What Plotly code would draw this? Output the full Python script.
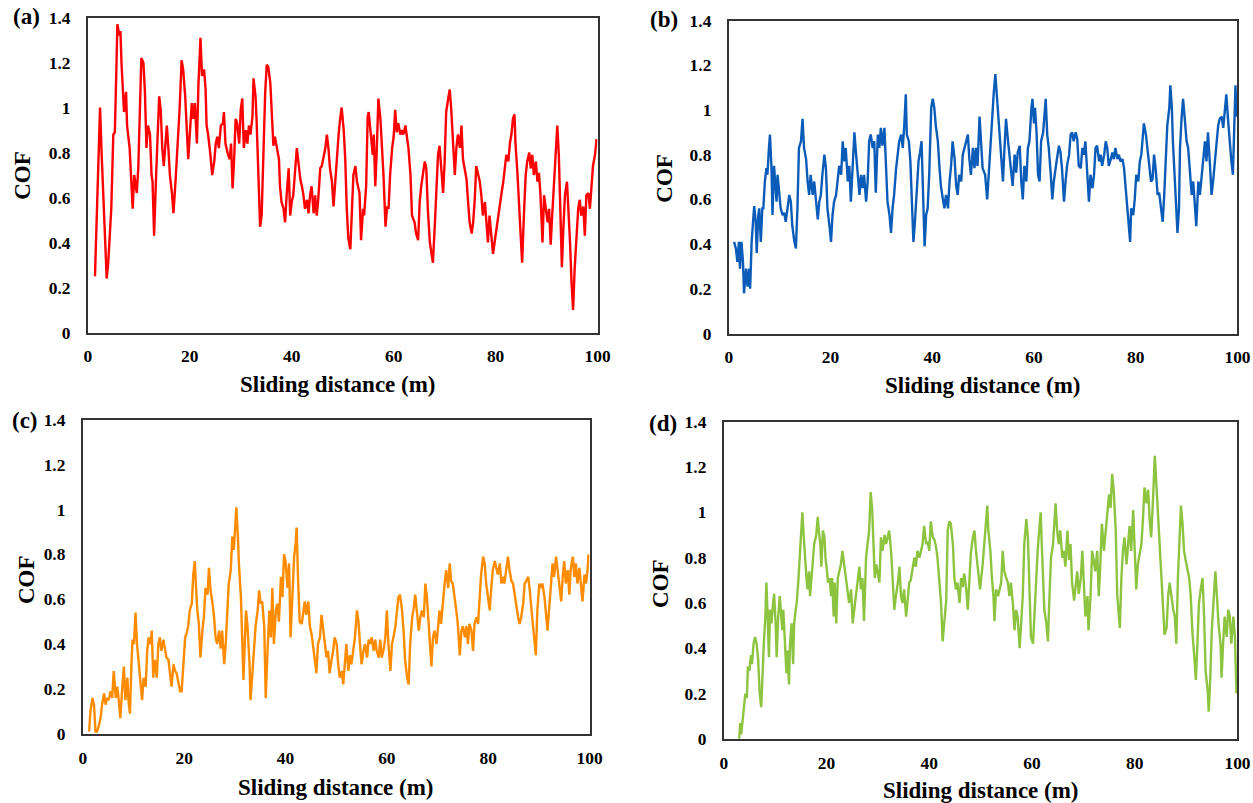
import plotly.graph_objects as go

# ---------------- data: coefficient of friction vs sliding distance ----------------
dist_a = [
    1.4, 2.4, 2.7, 3.3, 3.7, 4.0, 4.6, 5.0, 5.3, 5.6,
    5.8, 6.2, 6.4, 6.6, 6.9, 7.1, 7.5, 7.7, 8.2, 8.6,
    8.8, 9.1, 9.6, 9.9, 10.2, 10.5, 10.9, 11.2, 11.5, 11.8,
    12.2, 12.5, 12.7, 13.0, 13.4, 13.8, 14.0, 14.3, 14.6, 14.9,
    15.2, 15.5, 15.8, 16.1, 16.5, 16.8, 17.2, 17.6, 18.0, 18.4,
    18.7, 19.1, 19.4, 19.7, 20.0, 20.4, 20.7, 21.0, 21.4, 21.7,
    22.1, 22.4, 22.8, 23.1, 23.3, 23.6, 24.0, 24.4, 24.8, 25.1,
    25.4, 25.7, 26.1, 26.5, 26.7, 27.0, 27.4, 27.8, 28.1, 28.4,
    28.7, 29.0, 29.3, 29.7, 30.0, 30.3, 30.6, 31.0, 31.3, 31.6,
    31.9, 32.3, 32.5, 32.9, 33.1, 33.5, 33.8, 34.1, 34.5, 34.8,
    35.1, 35.4, 35.8, 36.1, 36.4, 36.7, 37.1, 37.5, 37.7, 38.0,
    38.4, 38.7, 39.0, 39.4, 39.7, 40.0, 40.3, 40.7, 41.0, 41.3,
    41.7, 42.0, 42.3, 42.6, 43.0, 43.3, 43.6, 43.9, 44.3, 44.6,
    44.9, 45.2, 45.6, 45.9, 46.2, 46.6, 46.9, 47.2, 47.5, 47.9,
    48.2, 48.5, 48.9, 49.2, 49.5, 49.8, 50.2, 50.5, 50.8, 51.1,
    51.5, 51.8, 52.1, 52.5, 52.8, 53.3, 53.6, 54.0, 54.2, 54.6,
    54.9, 55.1, 55.5, 55.9, 56.1, 56.4, 56.7, 57.0, 57.4, 57.7,
    58.0, 58.4, 58.7, 59.0, 59.3, 59.7, 60.0, 60.3, 60.6, 60.9,
    61.3, 61.6, 61.9, 62.3, 62.6, 62.9, 63.3, 63.6, 64.1, 64.4,
    64.8, 65.1, 65.4, 65.8, 66.1, 66.4, 66.7, 67.1, 67.4, 67.7,
    68.1, 68.4, 68.7, 69.0, 69.4, 69.7, 70.0, 70.3, 70.7, 71.0,
    71.3, 71.7, 72.0, 72.3, 72.6, 73.0, 73.3, 73.6, 74.0, 74.3,
    74.6, 74.9, 75.3, 75.6, 75.9, 76.2, 76.6, 76.9, 77.2, 77.5,
    77.9, 78.2, 78.5, 78.8, 79.2, 79.5, 79.8, 80.2, 80.5, 80.8,
    81.1, 81.5, 81.8, 82.1, 82.5, 82.8, 83.1, 83.4, 83.7, 83.9,
    84.3, 84.6, 84.9, 85.2, 85.6, 85.9, 86.2, 86.6, 86.9, 87.2,
    87.5, 87.9, 88.2, 88.5, 88.8, 89.2, 89.5, 89.8, 90.2, 90.5,
    90.8, 91.1, 91.5, 91.8, 92.1, 92.4, 92.7, 93.0, 93.3, 93.6,
    94.0, 94.3, 94.6, 94.9, 95.2, 95.5, 95.9, 96.2, 96.5, 96.8,
    97.2, 97.5, 97.8, 98.2, 98.5, 98.8, 99.1, 99.5, 99.8,
]
cof_a = [
    0.25, 1.00, 0.80, 0.50, 0.24, 0.31, 0.55, 0.88, 0.89, 1.17,
    1.37, 1.32, 1.34, 1.20, 1.07, 0.98, 1.07, 0.92, 0.82, 0.65,
    0.55, 0.70, 0.62, 0.73, 0.95, 1.22, 1.20, 1.07, 0.82, 0.92,
    0.88, 0.70, 0.67, 0.43, 0.70, 0.99, 1.05, 0.99, 0.82, 0.74,
    0.83, 0.92, 0.82, 0.70, 0.62, 0.53, 0.67, 0.82, 0.99, 1.21,
    1.17, 1.05, 0.92, 0.77, 0.88, 1.02, 0.95, 1.02, 0.84, 1.10,
    1.31, 1.14, 1.17, 1.08, 0.92, 0.88, 0.80, 0.70, 0.76, 0.84,
    0.87, 0.82, 0.92, 0.93, 0.98, 0.84, 0.80, 0.77, 0.84, 0.64,
    0.77, 0.95, 0.93, 0.84, 0.99, 1.04, 0.82, 0.90, 0.84, 0.92,
    0.88, 0.96, 1.13, 1.05, 0.95, 0.70, 0.47, 0.52, 0.84, 1.07,
    1.19, 1.18, 1.11, 0.95, 0.83, 0.87, 0.82, 0.77, 0.65, 0.58,
    0.55, 0.49, 0.61, 0.73, 0.52, 0.58, 0.61, 0.73, 0.82, 0.76,
    0.68, 0.65, 0.61, 0.55, 0.59, 0.53, 0.61, 0.65, 0.53, 0.61,
    0.52, 0.59, 0.73, 0.74, 0.77, 0.82, 0.88, 0.82, 0.73, 0.67,
    0.56, 0.67, 0.82, 0.88, 0.95, 1.00, 0.90, 0.77, 0.55, 0.42,
    0.37, 0.55, 0.70, 0.74, 0.67, 0.62, 0.41, 0.55, 0.52, 0.65,
    0.96, 0.98, 0.88, 0.79, 0.88, 0.65, 0.82, 1.04, 0.95, 0.84,
    0.70, 0.47, 0.56, 0.55, 0.70, 0.82, 0.87, 0.99, 0.89, 0.93,
    0.88, 0.90, 0.88, 0.92, 0.86, 0.82, 0.70, 0.52, 0.49, 0.44,
    0.41, 0.58, 0.65, 0.71, 0.76, 0.73, 0.55, 0.40, 0.35, 0.31,
    0.49, 0.65, 0.79, 0.83, 0.73, 0.62, 0.76, 0.98, 1.04, 1.08,
    0.99, 0.82, 0.70, 0.82, 0.88, 0.82, 0.92, 0.77, 0.71, 0.68,
    0.58, 0.49, 0.44, 0.49, 0.59, 0.74, 0.70, 0.67, 0.61, 0.52,
    0.58, 0.49, 0.40, 0.52, 0.43, 0.35, 0.40, 0.47, 0.52, 0.55,
    0.61, 0.67, 0.73, 0.79, 0.76, 0.84, 0.88, 0.95, 0.97, 0.84,
    0.70, 0.55, 0.47, 0.31, 0.55, 0.70, 0.76, 0.80, 0.73, 0.79,
    0.70, 0.76, 0.67, 0.71, 0.61, 0.40, 0.61, 0.55, 0.49, 0.55,
    0.39, 0.52, 0.70, 0.84, 0.92, 0.79, 0.52, 0.29, 0.47, 0.61,
    0.67, 0.55, 0.40, 0.22, 0.10, 0.28, 0.43, 0.55, 0.59, 0.52,
    0.56, 0.43, 0.61, 0.62, 0.55, 0.64, 0.74, 0.79, 0.86,
]

dist_b = [
    1.05, 1.4, 1.7, 2.0, 2.2, 2.5, 2.8, 3.0, 3.4, 3.7,
    4.0, 4.2, 4.5, 4.7, 5.0, 5.3, 5.5, 5.8, 6.0, 6.3,
    6.6, 6.8, 7.1, 7.4, 7.6, 7.9, 8.1, 8.4, 8.6, 8.9,
    9.1, 9.4, 9.6, 9.9, 10.2, 10.6, 10.9, 11.2, 11.5, 11.9,
    12.2, 12.5, 12.9, 13.2, 13.5, 13.8, 14.2, 14.5, 14.8, 15.2,
    15.5, 15.8, 16.1, 16.5, 16.8, 17.1, 17.5, 17.8, 18.1, 18.4,
    18.8, 19.1, 19.4, 19.8, 20.1, 20.4, 20.7, 21.1, 21.4, 21.7,
    22.1, 22.4, 22.7, 23.0, 23.4, 23.7, 24.0, 24.4, 24.7, 25.0,
    25.3, 25.7, 26.0, 26.3, 26.6, 27.0, 27.3, 27.6, 27.9, 28.3,
    28.6, 28.9, 29.3, 29.6, 29.9, 30.2, 30.6, 30.9, 31.2, 31.6,
    31.9, 32.2, 32.5, 32.9, 33.2, 33.5, 33.9, 34.2, 34.5, 34.8,
    35.0, 35.4, 35.7, 36.0, 36.3, 36.6, 36.9, 37.3, 37.6, 37.9,
    38.2, 38.5, 38.8, 39.1, 39.4, 39.8, 40.1, 40.4, 40.7, 41.1,
    41.4, 41.7, 42.1, 42.4, 42.7, 43.1, 43.4, 43.7, 44.0, 44.4,
    44.7, 45.0, 45.3, 45.7, 46.0, 46.3, 46.6, 47.0, 47.3, 47.6,
    48.0, 48.3, 48.6, 48.9, 49.3, 49.6, 49.9, 50.4, 50.8, 51.1,
    51.4, 51.8, 52.1, 52.4, 52.6, 52.9, 53.2, 53.5, 53.9, 54.2,
    54.5, 54.9, 55.2, 55.5, 55.8, 56.2, 56.5, 56.8, 57.2, 57.5,
    57.8, 58.1, 58.5, 58.8, 59.1, 59.5, 59.7, 60.0, 60.2, 60.5,
    60.8, 61.1, 61.4, 61.8, 62.1, 62.3, 62.6, 62.9, 63.3, 63.6,
    63.9, 64.2, 64.5, 64.9, 65.2, 65.5, 65.9, 66.2, 66.5, 66.9,
    67.2, 67.5, 67.8, 68.2, 68.5, 68.8, 69.2, 69.5, 69.8, 70.1,
    70.5, 70.8, 71.1, 71.5, 71.8, 72.1, 72.4, 72.8, 73.1, 73.4,
    73.8, 74.1, 74.4, 74.7, 75.1, 75.4, 75.7, 76.0, 76.4, 76.7,
    77.0, 77.4, 77.7, 78.0, 78.3, 78.7, 78.9, 79.1, 79.5, 79.8,
    80.1, 80.5, 80.8, 81.1, 81.4, 81.6, 82.0, 82.3, 82.6, 83.0,
    83.3, 83.6, 83.9, 84.3, 84.6, 84.9, 85.3, 85.6, 85.9, 86.2,
    86.6, 86.8, 87.1, 87.3, 87.7, 88.0, 88.2, 88.5, 88.7, 89.0,
    89.3, 89.6, 90.0, 90.3, 90.6, 91.0, 91.3, 91.6, 91.9, 92.3,
    92.6, 92.9, 93.3, 93.6, 93.9, 94.2, 94.6, 94.9, 95.2, 95.6,
    95.9, 96.2, 96.5, 96.9, 97.2, 97.5, 97.8, 98.2, 98.5, 98.8,
    99.1, 99.3, 99.6, 99.8,
]
cof_b = [
    0.41, 0.38, 0.32, 0.41, 0.29, 0.41, 0.32, 0.18, 0.29, 0.21,
    0.29, 0.20, 0.41, 0.50, 0.57, 0.50, 0.36, 0.53, 0.56, 0.41,
    0.56, 0.56, 0.68, 0.74, 0.71, 0.83, 0.89, 0.74, 0.53, 0.75,
    0.68, 0.59, 0.71, 0.62, 0.56, 0.53, 0.54, 0.50, 0.56, 0.62,
    0.59, 0.48, 0.41, 0.38, 0.56, 0.83, 0.86, 0.96, 0.83, 0.78,
    0.68, 0.62, 0.71, 0.62, 0.68, 0.59, 0.51, 0.59, 0.62, 0.71,
    0.80, 0.74, 0.56, 0.48, 0.41, 0.53, 0.59, 0.62, 0.69, 0.75,
    0.71, 0.86, 0.77, 0.83, 0.68, 0.75, 0.59, 0.77, 0.90, 0.81,
    0.71, 0.62, 0.71, 0.65, 0.71, 0.59, 0.68, 0.86, 0.89, 0.83,
    0.86, 0.63, 0.89, 0.83, 0.92, 0.84, 0.92, 0.71, 0.59, 0.53,
    0.45, 0.56, 0.62, 0.74, 0.80, 0.86, 0.89, 0.83, 0.93, 1.07,
    0.89, 0.86, 0.77, 0.56, 0.41, 0.50, 0.62, 0.77, 0.81, 0.86,
    0.62, 0.39, 0.53, 0.56, 0.71, 1.01, 1.05, 1.01, 0.93, 0.86,
    0.75, 0.66, 0.60, 0.56, 0.62, 0.56, 0.68, 0.75, 0.86, 0.78,
    0.66, 0.62, 0.71, 0.68, 0.80, 0.83, 0.86, 0.89, 0.78, 0.71,
    0.83, 0.74, 0.83, 0.75, 0.97, 0.83, 0.74, 0.71, 0.60, 0.71,
    0.83, 0.96, 1.08, 1.16, 1.09, 1.01, 0.93, 0.80, 0.68, 0.83,
    0.96, 0.86, 0.80, 0.75, 0.66, 0.80, 0.72, 0.81, 0.84, 0.68,
    0.60, 0.75, 0.68, 0.83, 0.86, 1.01, 1.05, 0.94, 1.01, 0.90,
    0.71, 0.68, 0.86, 0.90, 1.01, 1.05, 0.89, 0.83, 0.71, 0.60,
    0.68, 0.74, 0.78, 0.84, 0.81, 0.74, 0.59, 0.68, 0.75, 0.80,
    0.89, 0.90, 0.86, 0.90, 0.87, 0.75, 0.74, 0.83, 0.80, 0.86,
    0.71, 0.59, 0.71, 0.65, 0.71, 0.83, 0.84, 0.77, 0.80, 0.75,
    0.80, 0.86, 0.83, 0.75, 0.78, 0.81, 0.78, 0.83, 0.78, 0.80,
    0.77, 0.78, 0.74, 0.66, 0.59, 0.50, 0.41, 0.56, 0.53, 0.60,
    0.71, 0.68, 0.77, 0.80, 0.89, 0.94, 0.89, 0.83, 0.74, 0.68,
    0.69, 0.80, 0.74, 0.62, 0.63, 0.56, 0.50, 0.62, 0.78, 0.93,
    1.01, 1.11, 1.01, 0.86, 0.68, 0.53, 0.45, 0.56, 0.83, 0.96,
    1.05, 0.97, 0.86, 0.83, 0.74, 0.62, 0.68, 0.60, 0.48, 0.68,
    0.62, 0.69, 0.80, 0.86, 0.77, 0.90, 0.75, 0.62, 0.68, 0.77,
    0.86, 0.93, 0.96, 0.97, 0.92, 1.01, 1.07, 0.94, 0.83, 0.77,
    0.71, 0.89, 1.11, 0.97,
]

dist_c = [
    1.25, 1.5, 1.9, 2.2, 2.5, 2.8, 3.2, 3.5, 3.8, 4.2,
    4.5, 4.8, 5.1, 5.5, 5.8, 6.1, 6.5, 6.8, 7.1, 7.4,
    7.8, 8.1, 8.4, 8.8, 9.0, 9.3, 9.6, 9.8, 10.1, 10.4,
    10.7, 11.1, 11.4, 11.7, 12.0, 12.4, 12.7, 13.0, 13.4, 13.6,
    13.9, 14.2, 14.6, 14.9, 15.2, 15.5, 15.9, 16.2, 16.5, 16.9,
    17.2, 17.5, 17.9, 18.2, 18.5, 18.8, 19.2, 19.5, 19.8, 20.2,
    20.5, 20.8, 21.1, 21.5, 21.8, 22.1, 22.3, 22.6, 22.9, 23.2,
    23.6, 23.9, 24.2, 24.6, 24.9, 25.2, 25.6, 25.9, 26.2, 26.5,
    26.9, 27.2, 27.5, 27.9, 28.2, 28.5, 28.8, 29.2, 29.5, 29.8,
    30.1, 30.3, 30.6, 30.8, 31.2, 31.5, 31.7, 32.0, 32.2, 32.5,
    32.9, 33.1, 33.5, 33.8, 34.1, 34.5, 34.8, 35.1, 35.4, 35.8,
    36.1, 36.4, 36.8, 37.1, 37.4, 37.7, 38.1, 38.4, 38.7, 39.1,
    39.4, 39.7, 40.0, 40.4, 40.7, 41.0, 41.4, 41.7, 42.0, 42.2,
    42.5, 42.8, 43.2, 43.5, 43.8, 44.1, 44.5, 44.8, 45.1, 45.4,
    45.8, 46.1, 46.4, 46.8, 47.1, 47.4, 47.8, 48.1, 48.4, 48.7,
    49.1, 49.4, 49.7, 50.1, 50.4, 50.7, 51.1, 51.4, 51.7, 52.0,
    52.4, 52.7, 53.0, 53.4, 53.7, 54.1, 54.4, 54.7, 55.0, 55.4,
    55.7, 56.1, 56.4, 56.7, 57.0, 57.4, 57.7, 58.0, 58.4, 58.7,
    59.0, 59.4, 59.7, 60.0, 60.3, 60.7, 61.0, 61.3, 61.7, 62.0,
    62.3, 62.6, 63.0, 63.3, 63.6, 64.0, 64.3, 64.6, 65.0, 65.3,
    65.6, 65.9, 66.3, 66.6, 66.9, 67.3, 67.6, 67.9, 68.2, 68.6,
    68.8, 69.1, 69.4, 69.8, 70.1, 70.4, 70.7, 71.1, 71.4, 71.7,
    72.1, 72.4, 72.7, 73.0, 73.4, 73.7, 74.0, 74.4, 74.7, 75.0,
    75.4, 75.7, 76.0, 76.3, 76.7, 77.0, 77.3, 77.7, 78.0, 78.3,
    78.6, 79.0, 79.3, 79.6, 80.0, 80.3, 80.6, 80.9, 81.3, 81.6,
    81.9, 82.3, 82.6, 82.9, 83.2, 83.6, 83.9, 84.2, 84.6, 84.9,
    85.2, 85.5, 85.9, 86.2, 86.5, 86.9, 87.2, 87.5, 87.9, 88.2,
    88.5, 88.8, 89.2, 89.4, 89.7, 90.1, 90.4, 90.7, 91.1, 91.4,
    91.7, 92.0, 92.4, 92.7, 93.0, 93.4, 93.7, 94.0, 94.4, 94.7,
    95.0, 95.3, 95.7, 96.0, 96.3, 96.7, 97.0, 97.3, 97.6, 98.0,
    98.3, 98.6, 99.0, 99.3, 99.6, 99.8,
]
cof_c = [
    0.01, 0.10, 0.16, 0.13, 0.01, 0.01, 0.04, 0.07, 0.13, 0.18,
    0.13, 0.16, 0.15, 0.19, 0.16, 0.28, 0.16, 0.21, 0.15, 0.07,
    0.21, 0.30, 0.15, 0.25, 0.15, 0.09, 0.31, 0.42, 0.40, 0.54,
    0.40, 0.30, 0.24, 0.15, 0.25, 0.21, 0.37, 0.43, 0.40, 0.46,
    0.25, 0.33, 0.25, 0.40, 0.43, 0.37, 0.42, 0.37, 0.34, 0.33,
    0.28, 0.21, 0.31, 0.28, 0.27, 0.24, 0.19, 0.19, 0.30, 0.43,
    0.45, 0.48, 0.55, 0.58, 0.71, 0.77, 0.67, 0.55, 0.49, 0.34,
    0.46, 0.52, 0.65, 0.62, 0.74, 0.64, 0.58, 0.52, 0.43, 0.40,
    0.46, 0.38, 0.46, 0.31, 0.40, 0.55, 0.67, 0.73, 0.88, 0.82,
    0.94, 1.01, 0.88, 0.76, 0.61, 0.37, 0.24, 0.43, 0.55, 0.48,
    0.31, 0.15, 0.28, 0.40, 0.48, 0.55, 0.64, 0.58, 0.59, 0.48,
    0.16, 0.34, 0.55, 0.43, 0.65, 0.40, 0.55, 0.58, 0.50, 0.70,
    0.61, 0.80, 0.77, 0.65, 0.76, 0.43, 0.67, 0.79, 0.85, 0.92,
    0.67, 0.50, 0.49, 0.55, 0.59, 0.53, 0.59, 0.48, 0.45, 0.40,
    0.31, 0.27, 0.40, 0.43, 0.53, 0.48, 0.40, 0.34, 0.37, 0.27,
    0.33, 0.37, 0.43, 0.40, 0.31, 0.25, 0.28, 0.22, 0.31, 0.40,
    0.28, 0.35, 0.31, 0.37, 0.43, 0.55, 0.50, 0.40, 0.31, 0.37,
    0.40, 0.34, 0.42, 0.40, 0.43, 0.37, 0.42, 0.37, 0.34, 0.42,
    0.34, 0.38, 0.43, 0.55, 0.40, 0.28, 0.40, 0.43, 0.48, 0.55,
    0.61, 0.62, 0.55, 0.46, 0.33, 0.25, 0.22, 0.40, 0.52, 0.56,
    0.62, 0.55, 0.46, 0.52, 0.55, 0.52, 0.67, 0.61, 0.52, 0.40,
    0.30, 0.43, 0.46, 0.40, 0.49, 0.55, 0.49, 0.61, 0.67, 0.73,
    0.65, 0.76, 0.68, 0.67, 0.61, 0.55, 0.49, 0.35, 0.46, 0.48,
    0.43, 0.48, 0.40, 0.49, 0.46, 0.37, 0.49, 0.52, 0.49, 0.61,
    0.71, 0.79, 0.76, 0.67, 0.61, 0.55, 0.65, 0.73, 0.77, 0.74,
    0.71, 0.76, 0.67, 0.70, 0.67, 0.74, 0.79, 0.73, 0.68, 0.67,
    0.62, 0.59, 0.52, 0.49, 0.52, 0.58, 0.67, 0.68, 0.70, 0.64,
    0.55, 0.49, 0.40, 0.35, 0.55, 0.67, 0.65, 0.67, 0.61, 0.52,
    0.46, 0.55, 0.65, 0.76, 0.70, 0.79, 0.73, 0.67, 0.59, 0.70,
    0.77, 0.67, 0.73, 0.62, 0.74, 0.79, 0.70, 0.76, 0.67, 0.74,
    0.65, 0.59, 0.71, 0.67, 0.73, 0.80,
]

dist_d = [
    3.0, 3.2, 3.4, 3.7, 3.9, 4.2, 4.5, 4.7, 5.0, 5.3,
    5.5, 5.8, 6.1, 6.4, 6.7, 7.0, 7.3, 7.5, 7.8, 8.1,
    8.3, 8.5, 8.8, 9.0, 9.3, 9.6, 9.8, 10.1, 10.3, 10.6,
    10.9, 11.1, 11.4, 11.6, 11.9, 12.2, 12.4, 12.7, 12.9, 13.2,
    13.5, 13.7, 14.0, 14.2, 14.5, 14.8, 15.0, 15.3, 15.5, 15.8,
    16.1, 16.3, 16.6, 16.8, 17.1, 17.4, 17.6, 18.0, 18.3, 18.5,
    18.8, 19.0, 19.3, 19.6, 19.8, 20.1, 20.3, 20.6, 20.9, 21.1,
    21.4, 21.6, 21.9, 22.2, 22.5, 22.8, 23.1, 23.5, 23.8, 24.1,
    24.4, 24.8, 25.1, 25.4, 25.7, 26.0, 26.4, 26.7, 27.0, 27.3,
    27.7, 28.0, 28.3, 28.6, 28.9, 29.2, 29.4, 29.7, 30.0, 30.3,
    30.6, 30.9, 31.3, 31.6, 31.9, 32.2, 32.6, 32.9, 33.2, 33.5,
    33.9, 34.2, 34.5, 34.8, 35.1, 35.5, 35.8, 36.1, 36.4, 36.8,
    37.1, 37.4, 37.7, 38.1, 38.4, 38.7, 39.0, 39.4, 39.7, 40.0,
    40.3, 40.7, 41.0, 41.3, 41.6, 42.0, 42.3, 42.6, 42.9, 43.3,
    43.6, 43.9, 44.2, 44.6, 44.9, 45.2, 45.5, 45.9, 46.2, 46.5,
    46.8, 47.2, 47.5, 47.8, 48.1, 48.5, 48.8, 49.1, 49.4, 49.9,
    50.4, 50.7, 51.1, 51.3, 51.5, 51.9, 52.2, 52.5, 52.7, 53.0,
    53.4, 53.7, 54.0, 54.3, 54.6, 55.0, 55.3, 55.6, 55.9, 56.3,
    56.6, 56.9, 57.2, 57.6, 57.9, 58.2, 58.5, 58.9, 59.2, 59.5,
    59.8, 60.2, 60.5, 60.8, 61.1, 61.5, 61.7, 61.9, 62.2, 62.4,
    62.8, 63.1, 63.4, 63.7, 64.1, 64.4, 64.6, 64.9, 65.2, 65.5,
    65.9, 66.2, 66.5, 66.9, 67.2, 67.5, 67.8, 68.2, 68.5, 68.8,
    69.1, 69.5, 69.8, 70.1, 70.4, 70.8, 71.0, 71.4, 71.7, 72.0,
    72.3, 72.7, 73.0, 73.3, 73.6, 74.0, 74.3, 74.6, 75.0, 75.3,
    75.6, 75.9, 76.3, 76.6, 76.9, 77.1, 77.4, 77.7, 78.0, 78.4,
    78.7, 79.0, 79.3, 79.7, 80.0, 80.3, 80.6, 81.0, 81.3, 81.6,
    81.9, 82.3, 82.6, 82.9, 83.2, 83.6, 83.9, 84.2, 84.5, 84.9,
    85.2, 85.5, 85.8, 86.2, 86.5, 86.8, 87.1, 87.5, 87.8, 88.1,
    88.4, 88.8, 89.0, 89.3, 89.6, 89.9, 90.3, 90.6, 90.9, 91.2,
    91.6, 91.9, 92.2, 92.5, 92.9, 93.2, 93.5, 93.8, 94.2, 94.4,
    94.7, 95.0, 95.4, 95.7, 96.0, 96.3, 96.7, 96.9, 97.2, 97.5,
    97.9, 98.2, 98.5, 98.8, 99.2, 99.5, 99.8,
]
cof_d = [
    0.00, 0.07, 0.02, 0.08, 0.12, 0.20, 0.18, 0.32, 0.30, 0.37,
    0.33, 0.42, 0.45, 0.42, 0.35, 0.20, 0.14, 0.27, 0.42, 0.54,
    0.69, 0.57, 0.36, 0.57, 0.51, 0.60, 0.64, 0.51, 0.36, 0.54,
    0.63, 0.57, 0.48, 0.57, 0.42, 0.29, 0.39, 0.24, 0.42, 0.51,
    0.33, 0.51, 0.57, 0.60, 0.69, 0.83, 0.92, 1.00, 0.92, 0.80,
    0.71, 0.66, 0.74, 0.63, 0.71, 0.80, 0.86, 0.90, 0.98, 0.92,
    0.86, 0.76, 0.92, 0.89, 0.80, 0.74, 0.69, 0.71, 0.63, 0.71,
    0.54, 0.69, 0.51, 0.71, 0.74, 0.77, 0.83, 0.76, 0.71, 0.67,
    0.60, 0.66, 0.51, 0.57, 0.63, 0.69, 0.76, 0.66, 0.71, 0.52,
    0.80, 0.86, 0.92, 1.09, 1.01, 0.83, 0.71, 0.77, 0.73, 0.69,
    0.89, 0.83, 0.90, 0.86, 0.89, 0.92, 0.82, 0.71, 0.57, 0.63,
    0.69, 0.76, 0.63, 0.60, 0.66, 0.54, 0.63, 0.69, 0.70, 0.77,
    0.80, 0.76, 0.83, 0.80, 0.83, 0.86, 0.94, 0.86, 0.87, 0.83,
    0.96, 0.89, 0.88, 0.85, 0.80, 0.69, 0.60, 0.43, 0.51, 0.61,
    0.92, 0.96, 0.95, 0.86, 0.71, 0.66, 0.69, 0.60, 0.71, 0.67,
    0.73, 0.66, 0.57, 0.69, 0.82, 0.89, 0.92, 0.83, 0.76, 0.66,
    0.77, 0.86, 0.97, 1.03, 0.92, 0.83, 0.71, 0.63, 0.52, 0.66,
    0.63, 0.66, 0.69, 0.83, 0.74, 0.71, 0.69, 0.63, 0.69, 0.59,
    0.48, 0.57, 0.54, 0.40, 0.54, 0.63, 0.86, 0.97, 0.89, 0.71,
    0.45, 0.42, 0.57, 0.71, 0.83, 0.95, 1.00, 0.86, 0.69, 0.57,
    0.51, 0.43, 0.63, 0.80, 0.86, 1.01, 1.04, 0.92, 0.86, 0.92,
    0.80, 0.83, 0.76, 0.92, 0.79, 0.86, 0.69, 0.61, 0.69, 0.74,
    0.64, 0.71, 0.83, 0.71, 0.54, 0.63, 0.48, 0.63, 0.83, 0.79,
    0.74, 0.83, 0.63, 0.77, 0.95, 0.83, 0.90, 0.97, 1.08, 1.02,
    1.17, 1.10, 0.92, 0.63, 0.54, 0.49, 0.71, 0.83, 0.89, 0.77,
    0.86, 0.94, 0.83, 1.01, 0.83, 0.66, 0.77, 0.83, 0.86, 0.97,
    1.11, 1.04, 1.10, 0.97, 0.89, 1.08, 1.25, 1.13, 1.01, 0.86,
    0.71, 0.57, 0.46, 0.49, 0.63, 0.69, 0.63, 0.57, 0.54, 0.42,
    0.71, 0.89, 1.03, 0.95, 0.83, 0.79, 0.74, 0.71, 0.63, 0.48,
    0.36, 0.26, 0.42, 0.60, 0.67, 0.71, 0.54, 0.30, 0.21, 0.12,
    0.27, 0.48, 0.63, 0.74, 0.63, 0.51, 0.42, 0.27, 0.42, 0.54,
    0.45, 0.57, 0.54, 0.42, 0.54, 0.45, 0.20,
]

for xs, ys in [(dist_a, cof_a), (dist_b, cof_b), (dist_c, cof_c), (dist_d, cof_d)]:
    assert len(xs) == len(ys), (len(xs), len(ys))

x_ticks = [0, 20, 40, 60, 80, 100]
y_ticks = [0, 0.2, 0.4, 0.6, 0.8, 1.0, 1.2, 1.4]
y_tick_text = ["0", "0.2", "0.4", "0.6", "0.8", "1", "1.2", "1.4"]
panel_tags = ["(a)", "(b)", "(c)", "(d)"]
x_title = "Sliding distance (m)"
y_title = "COF"

# ---------------- layout geometry ----------------
W, H = 1253, 803
FONT = "Liberation Serif"

# left, right, top, bottom of each plotting frame (screen pixels)
frames = [
    (88, 597, 19, 333),
    (728, 1236, 22, 334),
    (83, 589, 420, 733),
    (723, 1236, 422, 738),
]
colors = ["#FF0000", "#0A5CB8", "#FF8C00", "#8CC43F"]
series = [(dist_a, cof_a), (dist_b, cof_b), (dist_c, cof_c), (dist_d, cof_d)]

# text anchors: panel tag, y-title, x-title (screen pixel centres)
tag_pos = [(27, 18), (663, 21), (25, 421), (662, 424)]
ytitle_pos = [(22, 176), (663, 179), (27, 579), (660, 583)]
xtitle_pos = [(338, 385), (982, 386), (336, 787), (980, 790)]

# placement of the canvas on screen: screen = offset + scale * canvas
SX, OX = 0.985, 4.3
SY, OY = 0.972, 11.5


def px(x):
    return ((x - OX) / SX) / W


def py(y):
    return 1 - ((y - OY) / SY) / H


fig = go.Figure()
layout = dict(
    width=W, height=H,
    margin=dict(l=0, r=0, t=0, b=0),
    paper_bgcolor="white", plot_bgcolor="white",
    showlegend=False,
    font=dict(family=FONT, size=17.4, color="black"),
)

tick_font = dict(family=FONT, size=17.4, color="black")
axis_common = dict(
    showline=True, linecolor="#333333", linewidth=1.8, mirror=True,
    showgrid=False, zeroline=False, ticks="",
    tickfont=tick_font,
)

label_font = dict(family=FONT, size=23, color="black")
annotations = []


def add_text(text, x, y, angle=0):
    annotations.append(dict(
        text="<b>%s</b>" % text, x=px(x), y=py(y), textangle=angle,
        xref="paper", yref="paper", xanchor="center", yanchor="middle",
        showarrow=False, font=label_font,
    ))


for i, ((xs, ys), col, (l, r, t, b)) in enumerate(zip(series, colors, frames)):
    n = "" if i == 0 else str(i + 1)
    fig.add_trace(go.Scatter(
        x=xs, y=ys, mode="lines",
        line=dict(color=col, width=2.4),
        xaxis="x" + n, yaxis="y" + n,
        hoverinfo="skip",
    ))
    layout["xaxis" + n] = dict(
        axis_common, domain=[px(l), px(r)], anchor="y" + n,
        range=[0, 100], tickvals=x_ticks,
        ticktext=["<b>%d</b>" % v for v in x_ticks],
        ticklabelstandoff=7,
    )
    layout["yaxis" + n] = dict(
        axis_common, domain=[py(b), py(t)], anchor="x" + n,
        range=[0, 1.4], tickvals=y_ticks,
        ticktext=["<b>%s</b>" % s for s in y_tick_text],
        ticklabelstandoff=12,
    )
    add_text(panel_tags[i], *tag_pos[i])
    add_text(y_title, *ytitle_pos[i], angle=-90)
    add_text(x_title, *xtitle_pos[i])

layout["annotations"] = annotations
fig.update_layout(**layout)

fig.write_html("out.html")
